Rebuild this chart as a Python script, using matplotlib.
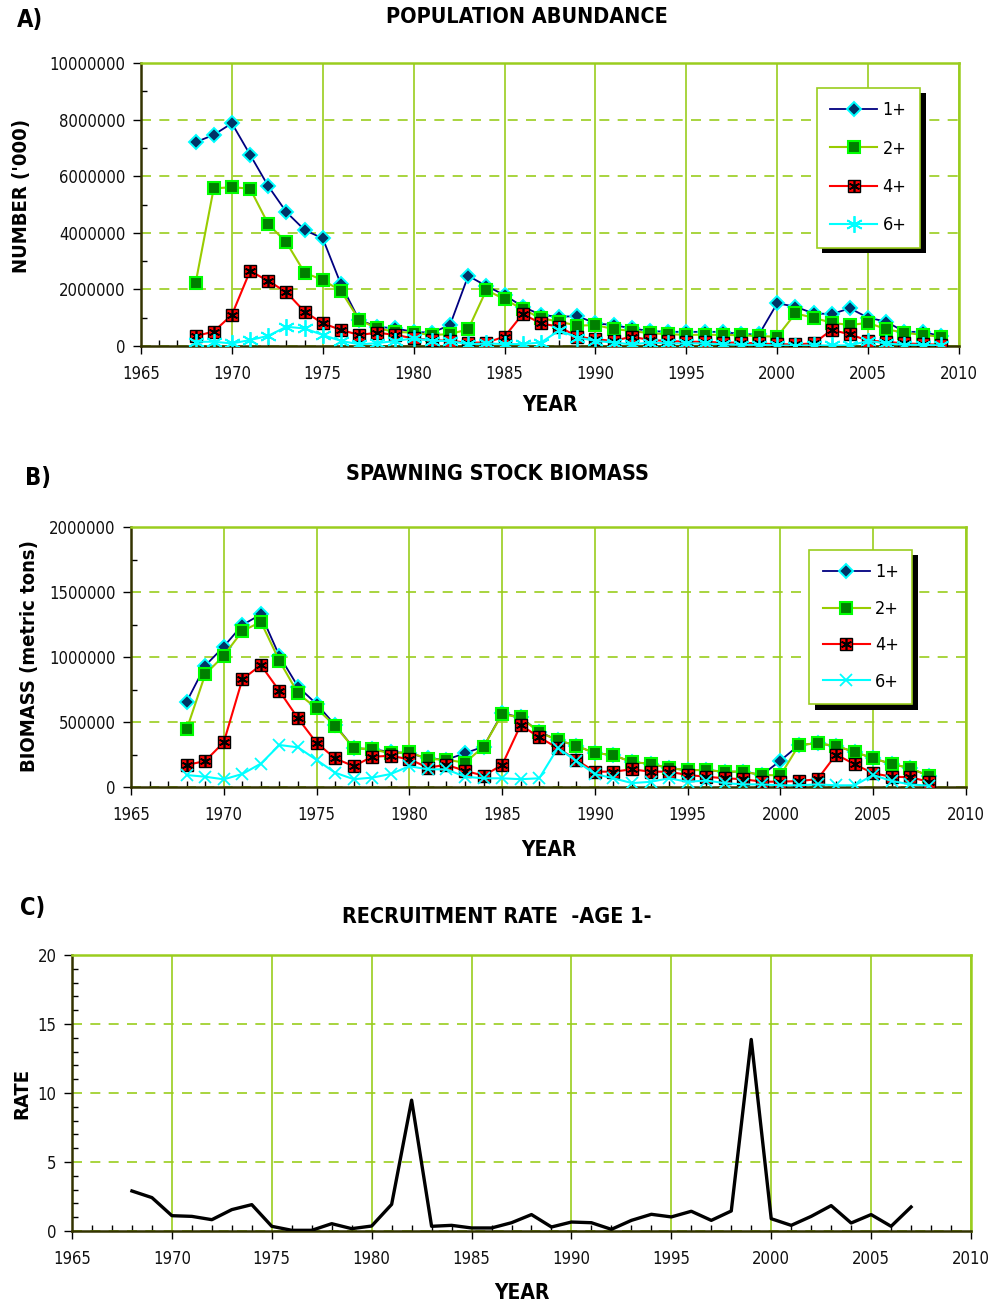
import matplotlib
matplotlib.use("Agg")
import matplotlib.pyplot as plt
from matplotlib.ticker import MultipleLocator

plt.rcParams['font.family'] = ['DejaVu Sans']
plt.rcParams['font.stretch'] = 'condensed'

years_a = list(range(1968, 2010))
abund_1 = [7.2, 7.46, 7.87, 6.76, 5.65, 4.73, 4.1, 3.8, 2.18, 0.92,
           0.68, 0.62, 0.5, 0.47, 0.74, 2.48, 2.12, 1.8, 1.39, 1.1,
           1.03, 1.06, 0.8, 0.74, 0.62, 0.53, 0.5, 0.5, 0.5, 0.5,
           0.42, 0.41, 1.51, 1.39, 1.15, 1.13, 1.33, 1.0, 0.86, 0.5,
           0.5, 0.35]
abund_2 = [2.21, 5.57, 5.61, 5.56, 4.31, 3.66, 2.59, 2.33, 1.95, 0.92,
           0.62, 0.5, 0.47, 0.39, 0.42, 0.59, 1.98, 1.65, 1.3, 0.98,
           0.86, 0.72, 0.74, 0.6, 0.53, 0.45, 0.42, 0.39, 0.4, 0.39,
           0.38, 0.35, 0.33, 1.15, 1.0, 0.82, 0.74, 0.82, 0.59, 0.47,
           0.39, 0.33]
abund_4 = [0.35, 0.51, 1.1, 2.65, 2.3, 1.9, 1.21, 0.8, 0.57, 0.39,
           0.47, 0.39, 0.27, 0.21, 0.18, 0.12, 0.12, 0.33, 1.13, 0.8,
           0.68, 0.33, 0.24, 0.18, 0.33, 0.21, 0.18, 0.15, 0.15, 0.12,
           0.12, 0.09, 0.06, 0.06, 0.09, 0.57, 0.41, 0.19, 0.15, 0.09,
           0.07, 0.04]
abund_6 = [0.15, 0.15, 0.09, 0.21, 0.36, 0.68, 0.62, 0.39, 0.18, 0.06,
           0.1, 0.18, 0.27, 0.18, 0.18, 0.06, 0.09, 0.07, 0.07, 0.12,
           0.55, 0.3, 0.18, 0.12, 0.06, 0.12, 0.09, 0.09, 0.09, 0.06,
           0.04, 0.04, 0.02, 0.01, 0.02, 0.02, 0.02, 0.18, 0.09, 0.04,
           0.04, 0.02]

years_b = list(range(1968, 2009))
ssb_1 = [0.656, 0.933, 1.08, 1.246, 1.328, 1.008, 0.772, 0.638, 0.477, 0.30,
         0.29, 0.27, 0.26, 0.22, 0.21, 0.26, 0.31, 0.567, 0.536, 0.425,
         0.36, 0.318, 0.26, 0.246, 0.19, 0.18, 0.144, 0.13, 0.13, 0.118,
         0.118, 0.092, 0.203, 0.323, 0.336, 0.315, 0.27, 0.22, 0.177, 0.144,
         0.085]
ssb_2 = [0.443, 0.867, 1.01, 1.2, 1.27, 0.97, 0.72, 0.605, 0.47, 0.30,
         0.29, 0.26, 0.267, 0.215, 0.21, 0.187, 0.31, 0.56, 0.535, 0.42,
         0.36, 0.318, 0.26, 0.246, 0.19, 0.18, 0.144, 0.13, 0.13, 0.118,
         0.118, 0.092, 0.09, 0.323, 0.336, 0.315, 0.27, 0.22, 0.177, 0.144,
         0.085]
ssb_4 = [0.169, 0.2, 0.344, 0.828, 0.938, 0.738, 0.528, 0.34, 0.22, 0.16,
         0.233, 0.24, 0.213, 0.15, 0.17, 0.125, 0.087, 0.169, 0.477, 0.382,
         0.3, 0.208, 0.118, 0.118, 0.136, 0.118, 0.118, 0.092, 0.079, 0.067,
         0.06, 0.041, 0.041, 0.046, 0.06, 0.25, 0.175, 0.105, 0.079, 0.075,
         0.04]
ssb_6 = [0.092, 0.079, 0.059, 0.1, 0.18, 0.323, 0.305, 0.208, 0.11, 0.06,
         0.072, 0.1, 0.16, 0.136, 0.136, 0.079, 0.067, 0.067, 0.06, 0.067,
         0.3, 0.2, 0.1, 0.067, 0.03, 0.04, 0.067, 0.04, 0.05, 0.03,
         0.02, 0.02, 0.013, 0.013, 0.02, 0.013, 0.013, 0.092, 0.046, 0.02,
         0.01]

years_c = list(range(1968, 2008))
recruit = [2.9, 2.42, 1.11, 1.06, 0.82, 1.55, 1.91, 0.34, 0.05, 0.05,
           0.53, 0.17, 0.36, 1.93, 9.48, 0.34, 0.41, 0.22, 0.22, 0.6,
           1.19, 0.29, 0.65, 0.6, 0.12, 0.77, 1.21, 1.02, 1.43, 0.77,
           1.45, 13.88, 0.89, 0.41, 1.06, 1.84, 0.58, 1.19, 0.34, 1.74]

series_labels = ['1+', '2+', '4+', '6+']

GRID = '#9ACD1E'
AXIS = '#333300'
W, H = 994, 1306

fig = plt.figure(figsize=(W / 100, H / 100), dpi=100)


def px(x, y):
    return x / W, 1 - y / H


def make_axes(left, right, top, bottom):
    return fig.add_axes([left / W, 1 - bottom / H, (right - left) / W, (bottom - top) / H])


def style_axes(ax, ymax, ymajor, yminor):
    ax.set_xlim(1965, 2010)
    ax.set_ylim(0, ymax)
    ax.xaxis.set_major_locator(MultipleLocator(5))
    ax.xaxis.set_minor_locator(MultipleLocator(1))
    ax.yaxis.set_major_locator(MultipleLocator(ymajor))
    ax.yaxis.set_minor_locator(MultipleLocator(yminor))
    ax.tick_params(which='major', direction='out', length=6, width=1,
                   color='black', labelsize=12, labelcolor='#111111')
    ax.tick_params(axis='x', which='major', pad=8)
    ax.tick_params(axis='y', which='major', pad=5)
    ax.tick_params(which='minor', direction='in', length=4, width=1, color='black')
    ax.grid(axis='x', which='major', color=GRID, lw=1.2, ls='-')
    ax.grid(axis='y', which='major', color=GRID, lw=1.2, ls=(0, (6, 5)))
    ax.set_axisbelow(True)
    for s in ('left', 'bottom'):
        ax.spines[s].set_color(AXIS)
        ax.spines[s].set_linewidth(1.8)
    for s in ('top', 'right'):
        ax.spines[s].set_color(GRID)
        ax.spines[s].set_linewidth(1.8)


def draw_series(ax, x, s1, s2, s4, s6, scale, six_marker, six_ms):
    h1, = ax.plot(x, [v * scale for v in s1], color='#000080', lw=1.3, marker='D', ms=7.5,
                  mfc='#003366', mec='#00FFFF', mew=1.4, zorder=3)
    h2, = ax.plot(x, [v * scale for v in s2], color='#99CC00', lw=1.5, marker='s', ms=9,
                  mfc='#008000', mec='#00FF00', mew=1.5, zorder=3)
    h4, = ax.plot(x, [v * scale for v in s4], color='#FF0000', lw=1.5, marker='s', ms=8,
                  mfc='#FF0000', mec='black', mew=1, zorder=3)
    h4b, = ax.plot(x, [v * scale for v in s4], ls='none', marker=(6, 2, 0), ms=8,
                   mec='black', mew=1.2, zorder=3)
    h6, = ax.plot(x, [v * scale for v in s6], color='#00FFFF', lw=1.5, marker=six_marker,
                  ms=six_ms, mec='#00FFFF', mew=1.3, zorder=3)
    return [h1, h2, (h4, h4b), h6]


def add_legend(ax, handles, anchor, spacing):
    leg = ax.legend(handles, series_labels, loc='upper left', bbox_to_anchor=anchor,
                    borderaxespad=0, fontsize=13, handlelength=2.6, labelspacing=spacing,
                    borderpad=0.75, handletextpad=0.3, fancybox=False, framealpha=1,
                    edgecolor=GRID,
                    shadow={'ox': 4, 'oy': -4, 'facecolor': 'black', 'edgecolor': 'none', 'alpha': 1})
    leg.get_frame().set_linewidth(1.2)
    return leg


def label(x, y, s, size=15, rot=0):
    fig.text(*px(x, y), s, fontsize=size, fontweight='bold', ha='center', va='center',
             rotation=rot)


# A) population abundance
axa = make_axes(141, 959, 63, 346)
style_axes(axa, 10000000, 2000000, 1000000)
ha = draw_series(axa, years_a, abund_1, abund_2, abund_4, abund_6, 1e6, (6, 2, 0), 12)
axa.yaxis.set_major_formatter(lambda v, p: f'{int(v)}')
add_legend(axa, ha, (0.826, 0.912), 1.12)
label(527, 17, 'POPULATION ABUNDANCE', 15.5)
label(30, 20, 'A)', 17)
label(550, 405, 'YEAR', 15)
label(22, 196, "NUMBER ('000)", 14.5, 90)

# B) spawning stock biomass
axb = make_axes(131, 966, 527, 787)
style_axes(axb, 2000000, 500000, 250000)
hb = draw_series(axb, years_b, ssb_1, ssb_2, ssb_4, ssb_6, 1e6, 'x', 8)
axb.yaxis.set_major_formatter(lambda v, p: f'{int(v)}')
add_legend(axb, hb, (0.812, 0.912), 1.02)
label(497, 474, 'SPAWNING STOCK BIOMASS', 15.5)
label(38, 478, 'B)', 17)
label(549, 850, 'YEAR', 15)
label(30, 656, 'BIOMASS (metric tons)', 14.5, 90)

# C) recruitment rate
axc = make_axes(72, 971, 955, 1231)
style_axes(axc, 20, 5, 1)
axc.plot(years_c, recruit, color='black', lw=2.4, zorder=3)
label(497, 917, 'RECRUITMENT RATE  -AGE 1-', 15.5)
label(33, 908, 'C)', 17)
label(522, 1293, 'YEAR', 15)
label(22, 1093, 'RATE', 14.5, 90)

fig.savefig('out.png', dpi=100)
